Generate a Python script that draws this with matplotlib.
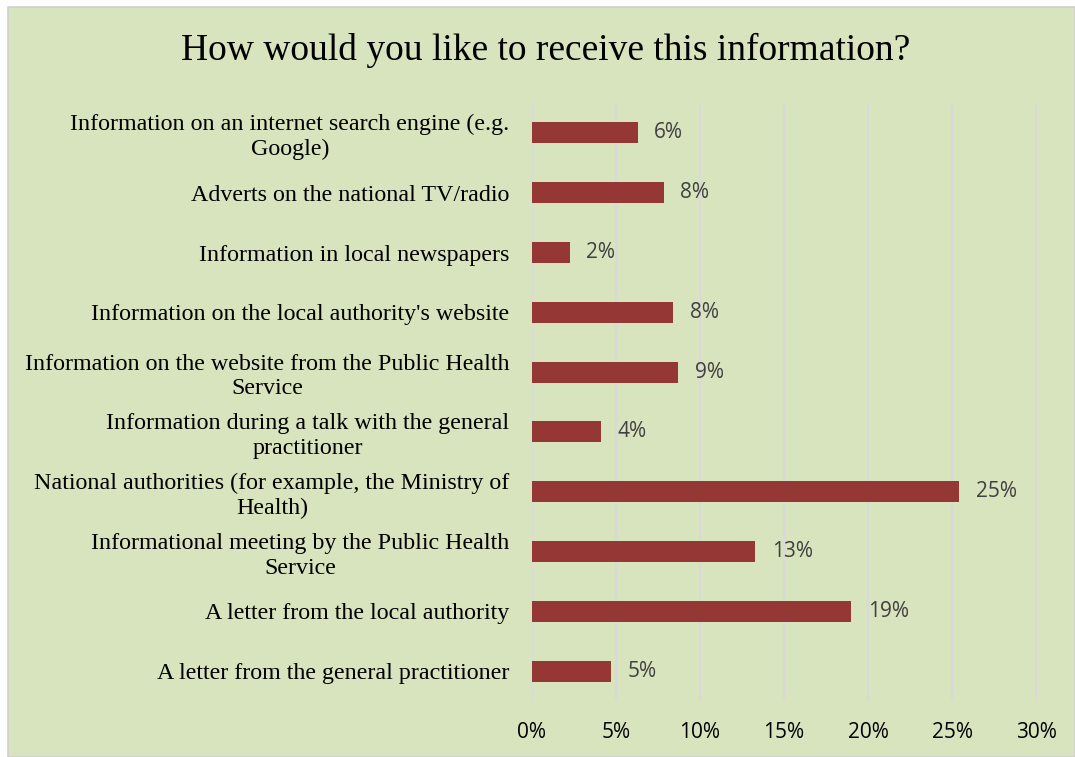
import matplotlib
matplotlib.use("Agg")
import matplotlib.pyplot as plt
from matplotlib.patches import Rectangle
from matplotlib.ticker import FuncFormatter

# survey answers, top to bottom
channels = [
    "Information on an internet search engine (e.g.\nGoogle)",
    "Adverts on the national TV/radio",
    "Information in local newspapers",
    "Information on the local authority's website",
    "Information on the website from the Public Health\nService",
    "Information during a talk with the general\npractitioner",
    "National authorities (for example, the Ministry of\nHealth)",
    "Informational meeting by the Public Health\nService",
    "A letter from the local authority",
    "A letter from the general practitioner",
]
shares = [6.3, 7.85, 2.25, 8.4, 8.7, 4.1, 25.4, 13.3, 19.0, 4.7]
x_ticks = [0, 5, 10, 15, 20, 25, 30]

bar_color = "#953735"
bg_color = "#D7E4BD"
grid_color = "#D9D9D9"

fig = plt.figure(figsize=(10.75, 7.57), dpi=100)
fig.patch.set_facecolor("white")
fig.patches.append(Rectangle((8 / 1075, 0), 1 - 8 / 1075, 1 - 7 / 757,
                             transform=fig.transFigure, facecolor=bg_color,
                             edgecolor="#CFCFCF", linewidth=1.2, zorder=-10))

ax = fig.add_axes([531.7 / 1075, 1 - 701 / 757, 504.8 / 1075, 598 / 757])
ax.set_facecolor("none")

pos = list(range(len(channels)))
ax.barh(pos, shares, height=0.35, color=bar_color, zorder=3)

for y, v in zip(pos, shares):
    ax.annotate(f"{v:.0f}%", (v, y), xytext=(12, 0), textcoords="offset points",
                ha="left", va="center", fontsize=15, family="Open Sans",
                color="#404040")

ax.set_xlim(0, 30)
ax.set_ylim(len(channels) - 0.5, -0.5)
ax.set_xticks(x_ticks)
ax.xaxis.set_major_formatter(FuncFormatter(lambda v, p: f"{v:.0f}%"))
ax.set_yticks(pos)
ax.set_yticklabels(channels, family="Liberation Serif", fontsize=17.3,
                   multialignment="center", linespacing=1.23)
for lbl in ax.get_xticklabels():
    lbl.set_family("Open Sans")
    lbl.set_fontsize(15)
ax.tick_params(axis="x", length=0, pad=15)
ax.tick_params(axis="y", length=0, pad=16)
for s in ax.spines.values():
    s.set_visible(False)
ax.grid(axis="x", color=grid_color, linewidth=1.6, zorder=0)

fig.text(546 / 1075, 1 - 50 / 757, "How would you like to receive this information?",
         ha="center", va="center", family="Liberation Serif", fontsize=27)

fig.savefig("out.png", dpi=100)
